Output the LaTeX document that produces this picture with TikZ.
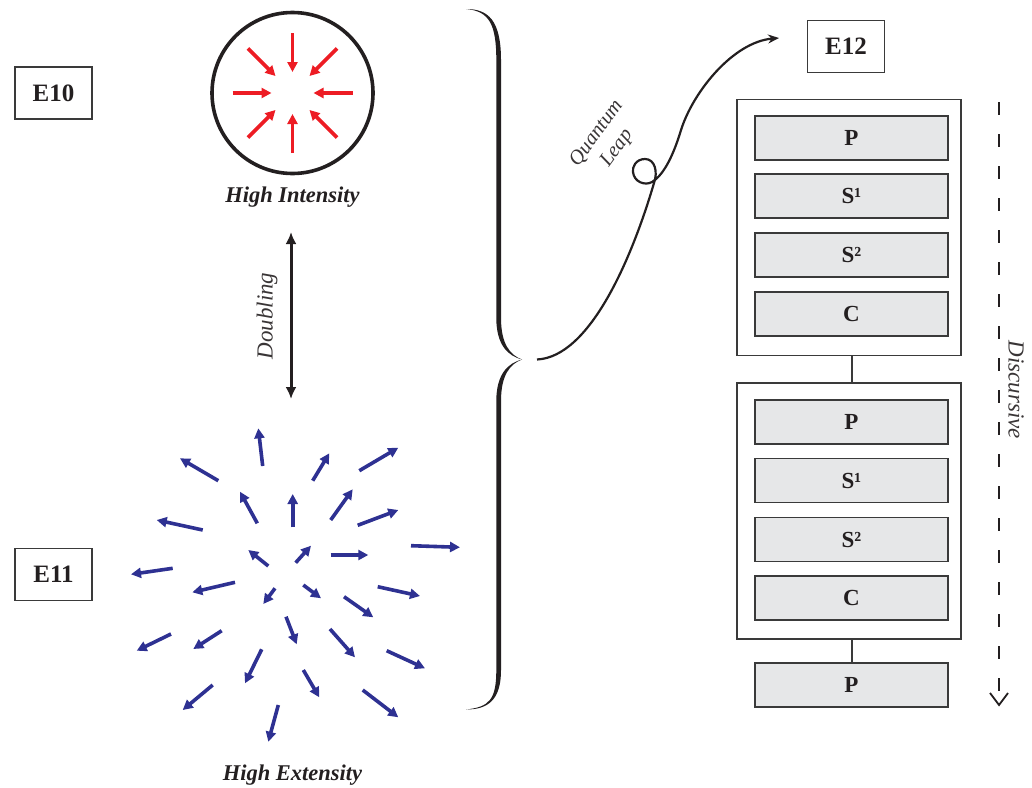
\documentclass[tikz,border=0pt]{standalone}
\usepackage{fontspec}
\setmainfont{Liberation Serif}
\usetikzlibrary{arrows.meta}
\definecolor{arrowblue}{HTML}{2E3192}
\definecolor{arrowred}{HTML}{ED1C24}
\definecolor{panel}{HTML}{E6E7E8}
\definecolor{edge}{HTML}{3A3A3A}
\definecolor{ink}{HTML}{231F20}

\begin{document}
\begin{tikzpicture}[x=1pt,y=-1pt,
  lbl/.style={draw=edge, line width=1.8pt, fill=white, minimum width=77pt,
    minimum height=52pt, inner sep=0pt, text=ink,
    font=\fontsize{25}{27}\selectfont\bfseries},
  layer/.style={draw=edge, line width=1.7pt, fill=panel, minimum width=193pt,
    minimum height=44pt, inner sep=0pt, text=ink,
    font=\fontsize{23}{25}\selectfont\bfseries},
  frame/.style={draw=edge, line width=1.7pt, fill=white, minimum width=224pt,
    minimum height=256pt, inner sep=0pt},
  caption/.style={font=\fontsize{22.5}{24}\selectfont\bfseries\itshape, text=ink},
  note/.style={font=\fontsize{23}{25}\selectfont\itshape, text=ink!90},
  outward/.style={arrowblue, line width=3.6pt, -{Triangle[length=10pt,width=10pt]}},
  inward/.style={arrowred, line width=3.6pt, -{Triangle[length=10pt,width=10pt]}},
]
\useasboundingbox (0,0) rectangle (1032,787);

% stage labels
\node[lbl] (e10) at (53.5,93) {E10};
\node[lbl] (e11) at (53.5,574.5) {E11};
\node[lbl] (e12) at (846,46.5) {E12};

% high intensity: circle with converging arrows
\node[circle, draw=ink, line width=3.6pt, minimum size=161pt, inner sep=0pt] (core) at (292.5,93) {};
\foreach \a in {0,90,180,270}
  \draw[inward] ([shift={(\a:60)}]core.center) -- ([shift={(\a:21)}]core.center);
\foreach \a in {45,135,225,315}
  \draw[inward] ([shift={(\a:63)}]core.center) -- ([shift={(\a:24)}]core.center);
\node[caption] (hi) at (292.5,197) {High Intensity};

% doubling
\coordinate (dtop) at (291,232);
\coordinate (dbot) at (291,399);
\draw[ink, line width=3pt, {Latex[length=12pt,width=11pt]}-{Latex[length=12pt,width=11pt]}] (dtop) -- (dbot);
\node[note, rotate=90] (dbl) at (267,316) {Doubling};

% high extensity: diverging arrows
\foreach \tx/\ty/\hx/\hy in {
  262.7/466/258.3/428.3, 218.3/480.7/180/458.3, 312.7/480.7/329.3/453.3,
  359.3/470.7/398.3/447.7, 257.3/523.3/240/491.7, 292.7/527.3/292.7/494,
  330.7/520/352.7/489.3, 357.7/525.3/398.3/510, 202.7/530/156.7/520,
  268.3/566/248.3/550, 295.7/562.7/311/545.7, 330.7/555/368.3/555,
  411/545.7/460/547.3, 172.7/568.3/131/574.3, 235/582.3/192.3/592.3,
  275/588.3/263.3/604, 303.3/585/321/598.3, 377.7/586.7/420/596,
  344/596.7/373.3/617.3, 171/634/136.7/650.7, 221.7/630.7/193.3/649,
  286/616.7/296.7/644.3, 330/629/355/657.3, 386.7/650.7/425/668.3,
  261.7/649.3/245/683.3, 212.7/685/182.7/710, 303.3/670/319.3/697.3,
  362.7/690/398.3/717.3, 278.3/705/268.3/741.7}
  \draw[outward] (\tx,\ty) -- (\hx,\hy);
\node[caption] (he) at (292.5,775) {High Extensity};

% brace
\coordinate (tip) at (522,359.5);
\fill[ink] (466,9) .. controls (489,11) and (496.3,24) .. (496.3,60)
  -- (496.3,318) .. controls (496.3,345) and (508,356) .. (tip)
  .. controls (510,355) and (501,344) .. (501,318)
  -- (501,60) .. controls (501,20) and (488,9) .. (466,9) -- cycle;
\fill[ink] (tip) .. controls (508,363) and (496.3,374) .. (496.3,401)
  -- (496.3,670) .. controls (496.3,700) and (489,707) .. (466,709.5)
  .. controls (488,709.5) and (501,700) .. (501,670)
  -- (501,401) .. controls (501,375) and (510,364) .. (tip) -- cycle;

% quantum leap
\coordinate (qs) at (537,359.5);
\coordinate (qe) at (779,38);
\draw[ink, line width=2.2pt, -{Stealth[length=11pt,width=9pt]}]
  (qs) .. controls (590,357) and (632,258) .. (654,183)
  .. controls (658,172) and (655,159) .. (645,159)
  .. controls (636,159) and (632,167) .. (633,172)
  .. controls (634,182) and (645,186) .. (652,182)
  .. controls (662,176) and (672,160) .. (681,130)
  .. controls (693,92) and (733,42) .. (qe);
\node[note, rotate=54, align=center, font=\fontsize{20.5}{25}\selectfont\itshape] (ql) at (607,141) {Quantum\\Leap};

% layered stacks
\node[frame] (f1) at (849,227.5) {};
\node[layer] (p1) at (851.5,138) {P};
\node[layer] (s11) at (851.5,196) {S¹};
\node[layer] (s21) at (851.5,255) {S²};
\node[layer] (c1) at (851.5,314) {C};

\node[frame] (f2) at (849,511) {};
\node[layer] (p2) at (851.5,422) {P};
\node[layer] (s12) at (851.5,480.5) {S¹};
\node[layer] (s22) at (851.5,539.5) {S²};
\node[layer] (c2) at (851.5,598) {C};

\node[layer] (p3) at (851.5,685) {P};

\draw[edge, line width=2pt] (f1.south -| p1.north) -- (f2.north -| p1.north);
\draw[edge, line width=2pt] (f2.south -| p1.north) -- (p3.north);

% discursive direction
\coordinate (dz0) at (999,102);
\coordinate (dz1) at (999,705);
\draw[ink, line width=2pt, dash pattern=on 13pt off 19pt] (dz0) -- (dz1);
\draw[ink, line width=1.8pt] (dz1) ++(-9,-12) -- (dz1) -- ++(9,-12);
\node[note, rotate=-90] (disc) at (1016,390) {Discursive};
\end{tikzpicture}
\end{document}
